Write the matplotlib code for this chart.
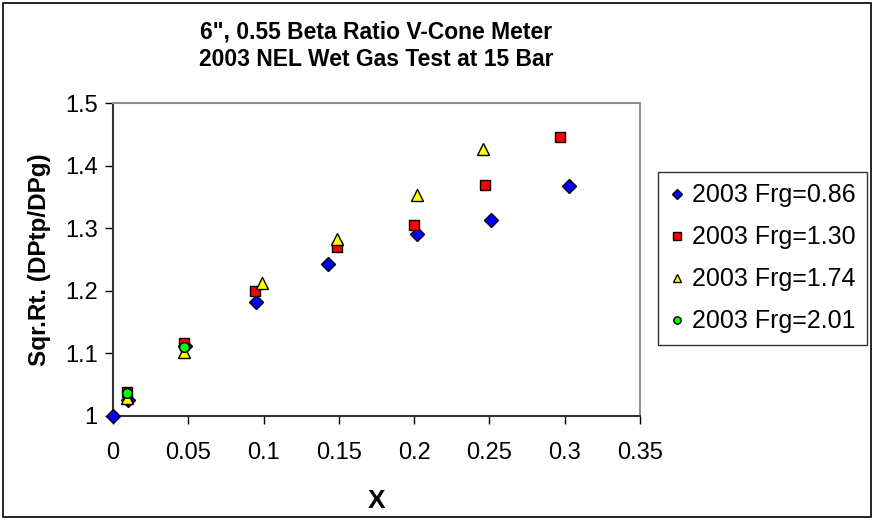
import matplotlib.pyplot as plt
from matplotlib.patches import Rectangle

plt.rcParams['font.family'] = ['Liberation Sans', 'DejaVu Sans']

# Frg = 0.86
x086 = [0.0, 0.010, 0.048, 0.095, 0.143, 0.202, 0.251, 0.303]
y086 = [1.000, 1.026, 1.112, 1.182, 1.243, 1.291, 1.313, 1.367]
# Frg = 1.30
x130 = [0.009, 0.047, 0.094, 0.149, 0.200, 0.247, 0.297]
y130 = [1.038, 1.117, 1.200, 1.270, 1.305, 1.369, 1.446]
# Frg = 1.74
x174 = [0.009, 0.047, 0.099, 0.149, 0.202, 0.246]
y174 = [1.029, 1.102, 1.212, 1.283, 1.353, 1.427]
# Frg = 2.01
x201 = [0.009, 0.047]
y201 = [1.037, 1.110]

xticks = [0, 0.05, 0.1, 0.15, 0.2, 0.25, 0.3, 0.35]
xlabels = ['0', '0.05', '0.1', '0.15', '0.2', '0.25', '0.3', '0.35']
yticks = [1.0, 1.1, 1.2, 1.3, 1.4, 1.5]
ylabels = ['1', '1.1', '1.2', '1.3', '1.4', '1.5']

fig = plt.figure(figsize=(8.74, 5.2), dpi=100)
ax = fig.add_axes([0.1293, 0.2, 0.6030, 0.6019])

ax.plot(x086, y086, 'D', ms=7, mfc='#0000ff', mec='black', mew=1, label='2003 Frg=0.86', clip_on=False, zorder=3)
ax.plot(x130, y130, 's', ms=7, mfc='#ff0000', mec='black', mew=1, label='2003 Frg=1.30', clip_on=False, zorder=3)
ax.plot(x174, y174, '^', ms=8.5, mfc='#ffff00', mec='black', mew=1, label='2003 Frg=1.74', clip_on=False, zorder=3)
ax.plot(x201, y201, 'o', ms=7, mfc='#00ff00', mec='black', mew=1, label='2003 Frg=2.01', clip_on=False, zorder=3)

ax.set_xlim(0, 0.35)
ax.set_ylim(1.0, 1.5)
ax.set_xticks(xticks)
ax.set_xticklabels(xlabels)
ax.set_yticks(yticks)
ax.set_yticklabels(ylabels)
ax.tick_params(direction='out', length=6, width=1, labelsize=17)
ax.tick_params(axis='x', pad=13)
ax.tick_params(axis='y', pad=5)

for s in ['left', 'bottom']:
    ax.spines[s].set_color('#333333')
    ax.spines[s].set_linewidth(1.5)
for s in ['top', 'right']:
    ax.spines[s].set_color('#909090')
    ax.spines[s].set_linewidth(1.5)

ax.set_xlabel('X', fontsize=19, fontweight='bold', labelpad=18)
ax.set_ylabel('Sqr.Rt. (DPtp/DPg)', fontsize=17.5, fontweight='bold', labelpad=10)
ax.set_title('6", 0.55 Beta Ratio V-Cone Meter\n2003 NEL Wet Gas Test at 15 Bar',
             fontsize=16.5, fontweight='bold', pad=27, linespacing=1.25)

leg = fig.legend(loc='upper left', bbox_to_anchor=(0.753, 0.669), borderaxespad=0,
                 fontsize=18, frameon=True, fancybox=False, edgecolor='black',
                 handlelength=0.6, handletextpad=0.3, labelspacing=0.72,
                 borderpad=0.45, markerscale=0.75)
leg.get_frame().set_linewidth(1)

fig.patches.append(Rectangle((0.004, 0.006), 0.992, 0.988, transform=fig.transFigure,
                             fill=False, edgecolor='black', linewidth=1.2))

fig.savefig('out.png', dpi=100)
